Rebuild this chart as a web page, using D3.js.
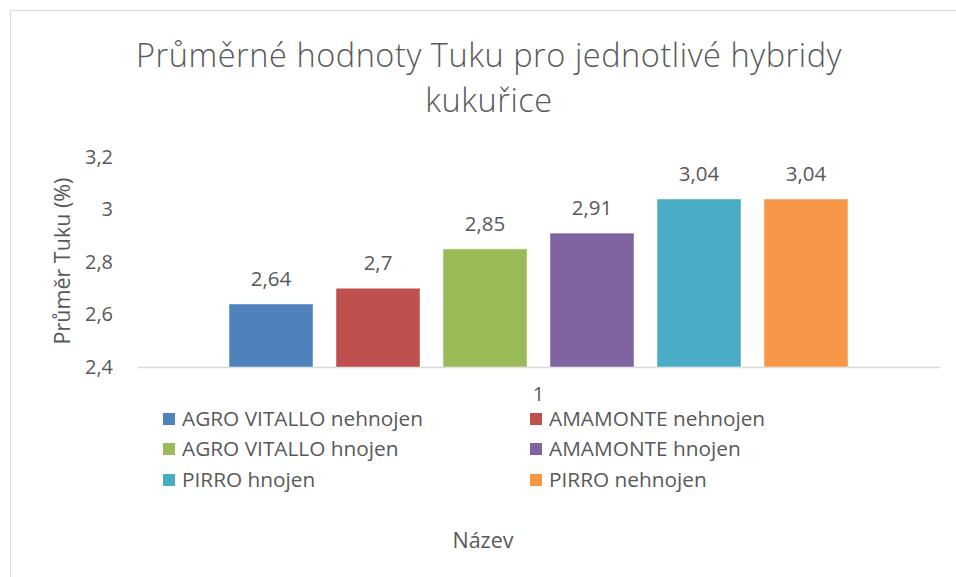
<!DOCTYPE html>
<html><head><meta charset="utf-8">
<script src="https://cdn.jsdelivr.net/npm/d3@7"></script>
<style>
html,body{margin:0;padding:0;background:#fff;}
text{font-family:"Open Sans","Noto Sans",sans-serif;fill:#595959;}
</style></head>
<body><svg id="chart" width="956" height="577"></svg>
<script>
const categories = ["1"];
const seriesNames = ["AGRO VITALLO nehnojen","AMAMONTE nehnojen","AGRO VITALLO hnojen","AMAMONTE hnojen","PIRRO hnojen","PIRRO nehnojen"];
const seriesValues = [2.64, 2.7, 2.85, 2.91, 3.04, 3.04];
const seriesColors = ["#4F81BD","#C0504D","#9BBB59","#8064A2","#4BACC6","#F79646"];
const yTicks = [2.4, 2.6, 2.8, 3.0, 3.2];
const titleLines = ["Průměrné hodnoty Tuku pro jednotlivé hybridy","kukuřice"];
const yTitle = "Průměr Tuku (%)";
const xTitle = "Název";

const svg = d3.select("#chart");
const loc = d3.formatLocale({decimal:",", thousands:" ", grouping:[3], currency:["","Kč"]});
const fmt = v => loc.format("~g")(+v.toFixed(2));

// chart border
svg.append("rect").attr("x",10.5).attr("y",10.5).attr("width",1000).attr("height",1000)
  .attr("fill","none").attr("stroke","#D9D9D9").attr("stroke-width",1);

const plot = {left:137, right:940, top:157, bottom:367};
const x0 = d3.scaleBand().domain(categories).range([plot.left, plot.right]).padding(0);
const bw = x0.bandwidth();
const x1 = d3.scaleBand().domain(seriesNames).range([bw*0.1146, bw*0.8854]).paddingInner(0.215).paddingOuter(0);
const y = d3.scaleLinear().domain([2.4, 3.2]).range([plot.bottom, plot.top]);

// title
svg.append("g").selectAll("text").data(titleLines).join("text")
  .attr("x",489).attr("y",(d,i)=>67+i*45).attr("text-anchor","middle")
  .attr("font-size",32.5).attr("font-weight",300).attr("letter-spacing",0.55).text(d=>d);

// y axis
const yAxis = d3.axisLeft(y).tickValues(yTicks).tickSize(0).tickPadding(0).tickFormat(fmt);
const gy = svg.append("g").attr("transform",`translate(113,0)`).call(yAxis);
gy.select(".domain").remove();
gy.selectAll("text").attr("font-size",20).attr("fill","#595959").attr("font-family",null);

// x axis
const xAxis = d3.axisBottom(x0).tickSize(0).tickPadding(0);
const gx = svg.append("g").attr("transform",`translate(0,${plot.bottom})`).call(xAxis);
gx.select(".domain").attr("stroke","#D9D9D9").attr("stroke-width",1.5);
gx.selectAll("text").attr("font-size",20).attr("fill","#595959").attr("font-family",null).attr("dy","1.7em");

// bars
const g = svg.append("g");
const data = seriesNames.map((n,i)=>({name:n, value:seriesValues[i], color:seriesColors[i], cat:categories[0]}));
g.selectAll("rect").data(data).join("rect")
  .attr("x",d=>x0(d.cat)+x1(d.name)).attr("width",x1.bandwidth())
  .attr("y",d=>y(d.value)).attr("height",d=>y(2.4)-y(d.value))
  .attr("fill",d=>d.color).attr("stroke","#fff").attr("stroke-opacity",0.45).attr("stroke-width",1);
g.selectAll("text.lbl").data(data).join("text").attr("class","lbl")
  .attr("x",d=>x0(d.cat)+x1(d.name)+x1.bandwidth()/2).attr("y",d=>y(d.value)-18)
  .attr("text-anchor","middle").attr("font-size",20.5).text(d=>fmt(d.value));

// y title
svg.append("text").attr("transform","translate(70,261) rotate(-90)").attr("text-anchor","middle")
  .attr("font-size",21.5).text(yTitle);
// x title
svg.append("text").attr("x",483).attr("y",548).attr("text-anchor","middle").attr("font-size",21.5).text(xTitle);

// legend
const lg = svg.append("g");
const lx = [163, 530], ly = [419, 449, 480];
data.forEach((d,i)=>{
  const cx = lx[i%2], cy = ly[Math.floor(i/2)];
  lg.append("rect").attr("x",cx).attr("y",cy-6).attr("width",12).attr("height",12).attr("fill",d.color);
  lg.append("text").attr("x",cx+19).attr("y",cy+7).attr("font-size",20.8).text(d.name);
});
</script></body></html>
